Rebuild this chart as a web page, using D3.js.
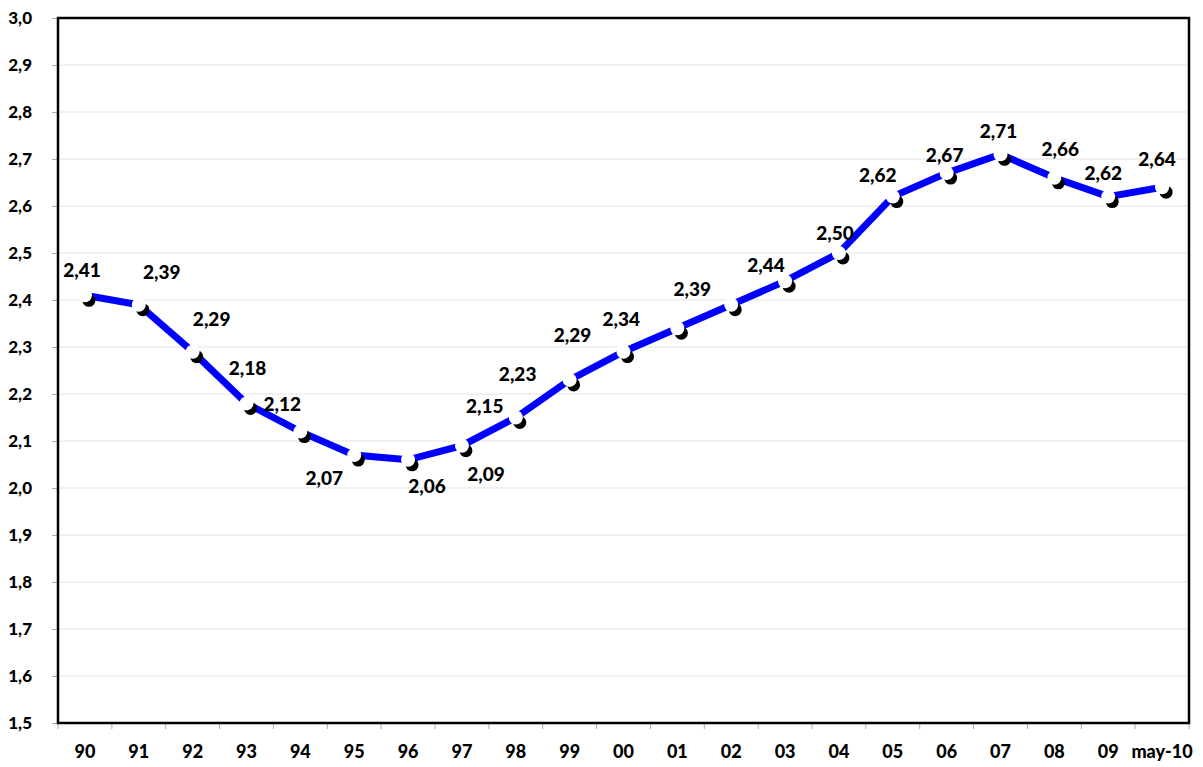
<!DOCTYPE html>
<html>
<head>
<meta charset="utf-8">
<script src="https://cdn.jsdelivr.net/npm/d3@7"></script>
<style>
  body { margin: 0; background: #fff; }
  text { font-family: "Lato", "DejaVu Sans", sans-serif; font-weight: 900; fill: #000; }
</style>
</head>
<body>
<svg id="chart" width="1203" height="767"></svg>
<script>
// Data
const years = ["90", "91", "92", "93", "94", "95", "96", "97", "98", "99", "00",
               "01", "02", "03", "04", "05", "06", "07", "08", "09", "may-10"];
const values = [2.41, 2.39, 2.29, 2.18, 2.12, 2.07, 2.06, 2.09, 2.15, 2.23, 2.29,
                2.34, 2.39, 2.44, 2.50, 2.62, 2.67, 2.71, 2.66, 2.62, 2.64];
const yTicks = [1.5, 1.6, 1.7, 1.8, 1.9, 2.0, 2.1, 2.2, 2.3, 2.4, 2.5, 2.6, 2.7, 2.8, 2.9, 3.0];

// Label offsets (layout only) for each data label, relative to its point
const labelShift = [[-3, -26], [23, -33], [19, -33], [1, -36], [-18, -28], [-30, 22],
                    [19, 26], [24, 28], [-31, -12], [-52, -6], [-51, -17], [-56, -10],
                    [-39, -16], [-19, -17], [-4, -21], [-15, -22], [-2, -19], [-2, -24],
                    [6, -29], [-5, -24], [-5, -29]];

let margin = { top: 18, left: 58, right: 14, bottom: 44 },
    width = 1203 - margin.left - margin.right,
    height = 767 - margin.top - margin.bottom;

let svg = d3.select("#chart")
    .append("g")
    .attr("transform", "translate(" + margin.left + "," + margin.top + ")");

let x = d3.scaleBand().domain(years).range([0, width]);
let y = d3.scaleLinear().domain([1.5, 3.0]).range([height, 0]);
const fmt = d => d3.format(".1f")(d).replace(".", ",");

// Grid lines
svg.selectAll("line.grid")
    .data(yTicks.slice(1, -1))
    .enter()
    .append("line")
    .attr("x1", 0).attr("x2", width)
    .attr("y1", d => y(d)).attr("y2", d => y(d))
    .attr("stroke", "#e3e3e3")
    .attr("stroke-width", 1.2);

// Y axis
let yAxis = svg.append("g")
    .call(d3.axisLeft(y).tickValues(yTicks).tickFormat(fmt).tickSize(6).tickPadding(20));
yAxis.select(".domain").remove();
yAxis.selectAll("line").attr("stroke", "#aaa");
yAxis.selectAll("text").style("font-size", "17px");

// X axis
let xAxis = svg.append("g")
    .attr("transform", "translate(0," + height + ")")
    .call(d3.axisBottom(x).tickSize(0).tickPadding(22));
xAxis.select(".domain").remove();
xAxis.selectAll("text").style("font-size", "18px");

// Category tick marks between bands
svg.selectAll("line.xtick")
    .data(years.concat(["end"]))
    .enter()
    .append("line")
    .attr("x1", (d, i) => i * x.bandwidth())
    .attr("x2", (d, i) => i * x.bandwidth())
    .attr("y1", height).attr("y2", height + 6)
    .attr("stroke", "#aaa");

// Frame
svg.append("rect")
    .attr("width", width)
    .attr("height", height)
    .attr("fill", "none")
    .attr("stroke", "#000")
    .attr("stroke-width", 2.5);

let cx = (d, i) => x(years[i]) + x.bandwidth() / 2;

// Line
svg.append("path")
    .datum(values)
    .attr("fill", "none")
    .attr("stroke", "#0000ff")
    .attr("stroke-width", 7)
    .attr("d", d3.line().x(cx).y(d => y(d)));

// Marker shadows and markers
svg.selectAll("circle.shadow")
    .data(values)
    .enter()
    .append("circle")
    .attr("cx", (d, i) => cx(d, i) + 4)
    .attr("cy", d => y(d) + 5)
    .attr("r", 6.5)
    .attr("fill", "#000");

svg.selectAll("circle.marker")
    .data(values)
    .enter()
    .append("circle")
    .attr("cx", cx)
    .attr("cy", d => y(d))
    .attr("r", 7)
    .attr("fill", "#fff");

// Data labels
svg.selectAll("text.label")
    .data(values)
    .enter()
    .append("text")
    .attr("x", (d, i) => cx(d, i) + labelShift[i][0])
    .attr("y", (d, i) => y(d) + labelShift[i][1])
    .attr("text-anchor", "middle")
    .attr("dominant-baseline", "central")
    .style("font-size", "19px")
    .text(d => d3.format(".2f")(d).replace(".", ","));
</script>
</body>
</html>
